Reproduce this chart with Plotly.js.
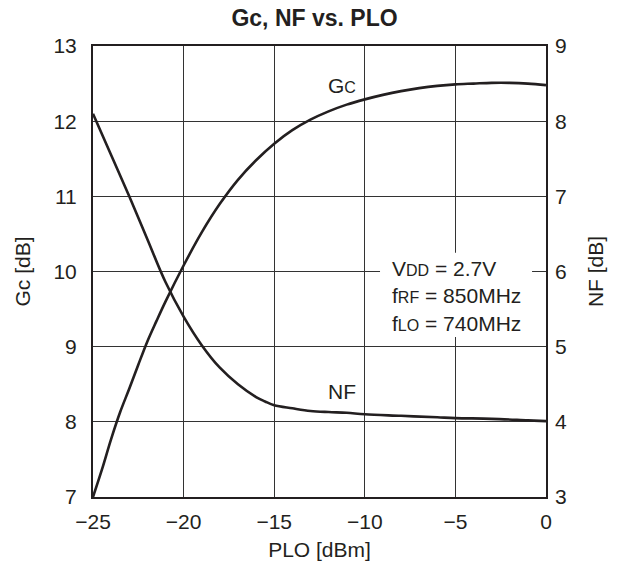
<!DOCTYPE html>
<html><head><meta charset="utf-8">
<script src="https://cdn.plot.ly/plotly-3.0.1.min.js"></script>
<style>body{margin:0;background:#fff}#c{width:629px;height:569px}</style>
</head><body><div id="c"></div>
<script>
const gcX = [-25,-24.5,-24,-23.5,-23,-22.5,-22,-21.5,-21,-20,-19,-18,-17,-16,-15,-14,-13,-12,-11,-10,-9,-8,-7,-6,-5,-4,-3,-2,-1,0];
const gcY = [7.0,7.37,7.77,8.13,8.44,8.76,9.07,9.34,9.6,10.08,10.52,10.9,11.22,11.48,11.7,11.88,12.02,12.13,12.22,12.29,12.35,12.4,12.44,12.47,12.49,12.5,12.51,12.51,12.5,12.48];
const nfX = [-25,-24,-23,-22,-21,-20,-19,-18,-17,-16,-15.5,-15,-14,-13,-12,-11,-10,-8,-6,-5,-3,-1,0];
const nfY = [8.1,7.55,7.0,6.43,5.86,5.4,5.02,4.72,4.5,4.33,4.27,4.22,4.18,4.145,4.13,4.12,4.1,4.08,4.06,4.05,4.04,4.02,4.01];
const xTicks = [-25,-20,-15,-10,-5,0];
const xTickText = ['\u221225','\u221220','\u221215','\u221210','\u22125','0'];

const line = {color:'#231f20', width:2.6, shape:'spline', smoothing:1};
const traces = [
  {x:gcX, y:gcY, mode:'lines', line:line, yaxis:'y', hoverinfo:'skip'},
  {x:nfX, y:nfY, mode:'lines', line:line, yaxis:'y2', hoverinfo:'skip'}
];
const fam = 'Liberation Sans, Arial, sans-serif';
const col = '#231f20';
const sub = s => "<span style='font-size:16px'>"+s+"</span>";
const layout = {
  width:629, height:569,
  margin:{l:93, r:83, t:46, b:72},
  showlegend:false,
  paper_bgcolor:'#fff', plot_bgcolor:'#fff',
  font:{family:fam, color:col, size:21},
  title:{text:'<b>Gc, NF vs. PLO</b>', font:{size:23, family:fam, color:col}, x:0.5, xanchor:'center', y:0.968, yanchor:'middle'},
  xaxis:{range:[-25,0], tickvals:xTicks, ticktext:xTickText, showgrid:true, gridcolor:'#333', gridwidth:1,
    zeroline:false, showline:true, linecolor:col, linewidth:2, mirror:true, ticks:'', ticklabelstandoff:5,
    title:{text:'PLO [dBm]', font:{size:21}, standoff:10}, tickfont:{size:21}},
  yaxis:{range:[7,13], dtick:1, showgrid:true, gridcolor:'#333', gridwidth:1, zeroline:false,
    showline:true, linecolor:col, linewidth:2, mirror:true, ticks:'', ticklabelstandoff:10,
    title:{text:'Gc [dB]', font:{size:21}, standoff:17}, tickfont:{size:21}},
  yaxis2:{range:[3,9], dtick:1, overlaying:'y', side:'right', showgrid:false, zeroline:false, ticks:'', ticklabelstandoff:8,
    title:{text:'NF [dB]', font:{size:21}, standoff:22}, tickfont:{size:21}},
  shapes:[
    {type:'rect', xref:'x', yref:'y', x0:-9.16, x1:-0.77, y0:9.13, y1:10.25, fillcolor:'#fff', line:{width:0}, layer:'above'}
  ],
  annotations:[
    {xref:'x', yref:'y', x:-11.25, y:12.47, text:'G'+sub('C'), showarrow:false, xanchor:'center', yanchor:'middle'},
    {xref:'x', yref:'y', x:-11.25, y:8.4, text:'NF', showarrow:false, xanchor:'center', yanchor:'middle'},
    {xref:'x', yref:'y', x:-8.6, y:9.67, text:'V'+sub('DD')+' = 2.7V<br>f'+sub('RF')+' = 850MHz<br>f'+sub('LO')+' = 740MHz',
      showarrow:false, xanchor:'left', yanchor:'middle', align:'left'}
  ]
};
Plotly.newPlot('c', traces, layout, {staticPlot:true});
</script></body></html>
